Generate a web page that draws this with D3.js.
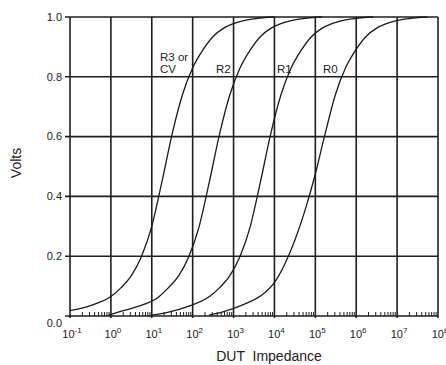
<!DOCTYPE html>
<html lang="en">
<head>
<meta charset="UTF-8">
<script src="https://cdn.jsdelivr.net/npm/d3@7"></script>
<title>DUT Impedance</title>
<style>
  body { margin: 0; background: #fff; }
  text { font-family: "Liberation Sans", Arial, sans-serif; fill: #222; }
</style>
</head>
<body>
<script>
// decades on the x axis (log10 of the impedance)
var decades = [-1, 0, 1, 2, 3, 4, 5, 6, 7, 8];
var voltTicks = [0, 0.2, 0.4, 0.6, 0.8, 1.0];

// curves: [log10 impedance, volts]
var r3 = [[-1,0.018],[-0.5,0.035],[0,0.065],[0.25,0.095],[0.5,0.135],[0.75,0.2],[1,0.3],[1.25,0.45],[1.5,0.61],[1.75,0.74],[2,0.83],[2.25,0.89],[2.5,0.935],[2.75,0.962],[3,0.978],[3.5,0.994],[4,1]];
var r2 = [[-0.05,0.003],[0.16,0.012],[0.66,0.032],[1.16,0.063],[1.41,0.095],[1.66,0.135],[1.91,0.2],[2.16,0.3],[2.41,0.45],[2.66,0.61],[2.91,0.74],[3.16,0.83],[3.41,0.89],[3.66,0.935],[3.91,0.962],[4.16,0.978],[4.66,0.994],[5.16,1]];
var r1 = [[1.0,0.003],[1.41,0.013],[1.91,0.033],[2.41,0.065],[2.66,0.095],[2.91,0.135],[3.16,0.2],[3.41,0.3],[3.66,0.45],[3.91,0.61],[4.16,0.74],[4.41,0.83],[4.66,0.89],[4.91,0.935],[5.16,0.962],[5.41,0.978],[5.91,0.994],[6.41,1]];
var r0 = [[2.4,0.003],[2.74,0.014],[3.24,0.038],[3.74,0.075],[3.99,0.11],[4.24,0.17],[4.49,0.25],[4.74,0.35],[4.99,0.47],[5.24,0.61],[5.49,0.74],[5.74,0.83],[5.99,0.89],[6.24,0.935],[6.49,0.962],[6.74,0.978],[7.24,0.994],[7.74,1]];
var curves = [r3, r2, r1, r0];

var width = 446, height = 365;
var padL = 70, padR = 438, padT = 17, padB = 316;

var x = d3.scaleLog().domain([0.1, 1e8]).range([padL, padR]);
var y = d3.scaleLinear().domain([0, 1]).range([padB, padT]);

var svg = d3.select("body").append("svg")
    .attr("width", width).attr("height", height);

svg.append("clipPath").attr("id", "plot")
  .append("rect").attr("x", padL).attr("y", padT - 1)
  .attr("width", padR - padL).attr("height", padB - padT + 1);

// minor ticks on the bottom axis
var minors = [];
decades.slice(0, -1).forEach(function(d) {
  for (var k = 2; k <= 9; k++) minors.push(k * Math.pow(10, d));
});
svg.append("g").selectAll("line").data(minors).enter().append("line")
  .attr("x1", function(d) { return x(d); }).attr("x2", function(d) { return x(d); })
  .attr("y1", padB).attr("y2", padB - 4)
  .attr("stroke", "#222").attr("stroke-width", 1);

// grid
svg.append("g").selectAll("line").data(decades).enter().append("line")
  .attr("x1", function(d) { return x(Math.pow(10, d)); })
  .attr("x2", function(d) { return x(Math.pow(10, d)); })
  .attr("y1", padT).attr("y2", padB + 2)
  .attr("stroke", "#1e1e1e").attr("stroke-width", 1.6);

svg.append("g").selectAll("line").data(voltTicks).enter().append("line")
  .attr("x1", padL - 5).attr("x2", padR)
  .attr("y1", function(d) { return y(d); }).attr("y2", function(d) { return y(d); })
  .attr("stroke", "#1e1e1e").attr("stroke-width", 1.6);

// y labels
svg.append("g").selectAll("text").data(voltTicks).enter().append("text")
  .attr("x", padL - 8)
  .attr("y", function(d) { return y(d) + (d === 0 ? 7 : 0); })
  .attr("dy", "0.35em")
  .attr("text-anchor", "end")
  .attr("font-size", 11)
  .text(function(d) { return d.toFixed(1); });

// x labels 10^n
var xl = svg.append("g").selectAll("text").data(decades).enter().append("text")
  .attr("x", function(d) { return x(Math.pow(10, d)) + 2; })
  .attr("y", 338)
  .attr("text-anchor", "middle")
  .attr("font-size", 11);
xl.append("tspan").text("10");
xl.append("tspan").attr("dy", -5).attr("font-size", 8).text(function(d) { return d; });

// curves
var line = d3.line()
  .x(function(d) { return x(Math.pow(10, d[0])); })
  .y(function(d) { return y(d[1]); })
  .curve(d3.curveMonotoneX);

svg.append("g").attr("clip-path", "url(#plot)")
  .selectAll("path").data(curves).enter().append("path")
  .attr("d", line)
  .attr("fill", "none")
  .attr("stroke", "#1a1a1a")
  .attr("stroke-width", 1.3);

// curve labels
var labels = [
  { t: "R3 or", x: 160, y: 61 },
  { t: "CV", x: 160, y: 73 },
  { t: "R2", x: 216, y: 73 },
  { t: "R1", x: 277, y: 73 },
  { t: "R0", x: 323, y: 73 }
];
svg.append("g").selectAll("text").data(labels).enter().append("text")
  .attr("x", function(d) { return d.x; })
  .attr("y", function(d) { return d.y; })
  .attr("font-size", 11.5)
  .text(function(d) { return d.t; });

// axis titles
svg.append("text")
  .attr("transform", "translate(21,163) rotate(-90)")
  .attr("text-anchor", "middle")
  .attr("font-size", 14)
  .text("Volts");

svg.append("text")
  .attr("x", 269).attr("y", 361)
  .attr("text-anchor", "middle")
  .attr("font-size", 14)
  .style("white-space", "pre")
  .text("DUT  Impedance");
</script>
</body>
</html>
